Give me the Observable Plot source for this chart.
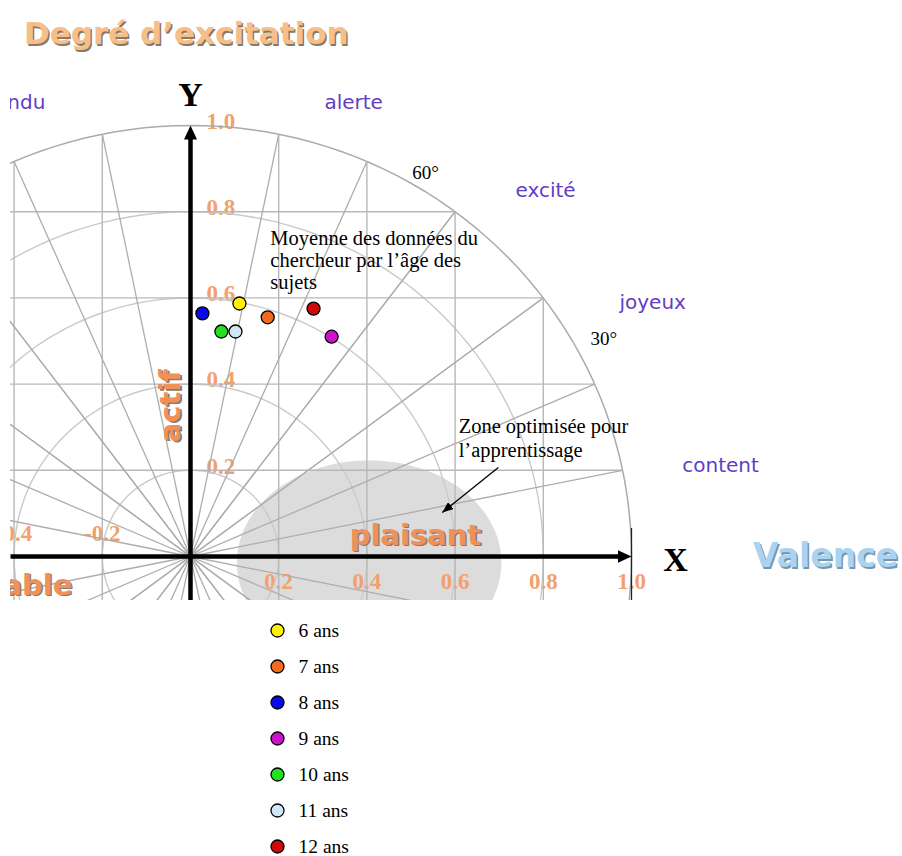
<!DOCTYPE html>
<html><head><meta charset="utf-8">
<script src="https://cdn.jsdelivr.net/npm/d3@7"></script>
<script src="https://cdn.jsdelivr.net/npm/@observablehq/plot@0.6"></script>
<style>
body{margin:0;background:#fff;width:902px;height:856px;position:relative;overflow:hidden}
#title{position:absolute;left:24px;top:18px;font-family:"DejaVu Sans";font-weight:bold;font-size:31px;line-height:31px;color:#F6BF8A;text-shadow:1.5px 1.5px 0 #8a7866;white-space:nowrap}
#chart{position:absolute;left:0;top:60px}
#legend{position:absolute;left:0;top:600px}
</style></head><body>
<div id="title">Degré d’excitation</div>
<div id="chart"></div>
<div id="legend"></div>
<script>
// ---- data ----
const ages = ["6 ans","7 ans","8 ans","9 ans","10 ans","11 ans","12 ans"];
const valence = [0.111, 0.175, 0.027, 0.320, 0.070, 0.102, 0.279];
const arousal = [0.587, 0.555, 0.564, 0.510, 0.522, 0.522, 0.575];
const ageColors = ["#FFF200","#F26A1E","#0A0AE8","#CC12CC","#22E022","#CFE8F5","#CC0A0A"];
const gridRadii = [0.2, 0.4, 0.6, 0.8];
const outerRadius = [1.0];
const gridSteps = [-0.8, -0.6, -0.4, -0.2, 0.2, 0.4, 0.6, 0.8];
const xTicksPos = [0.2, 0.4, 0.6, 0.8, 1.0];
const xTicksNeg = [-0.4, -0.2];
const yTicks = [0.2, 0.4, 0.6, 0.8, 1.0];
const moodWords = ["alerte", "excité", "joyeux", "content"];
const moodValence = [0.37, 0.805, 1.048, 1.202];
const moodArousal = [1.053, 0.849, 0.589, 0.211];
const tenseWord = ["tendu"];
const tenseValence = [-0.329];
const tenseArousal = [1.053];
const angleLabels = ["60°", "30°"];
const angleValence = [0.533, 0.937];
const angleArousal = [0.891, 0.506];
const zoneCenter = [0.405, -0.014];
const zoneRadii = [0.300, 0.237];

// ---- layout ----
const W = 902, H = 540;
const PX_X = 441, PX_Y = 431, OX = 190, OY = 496;
const xDomain = [(10 - OX) / PX_X, (W - OX) / PX_X];
const yDomain = [(OY - H) / PX_Y, OY / PX_Y];
const ORANGE_TICK = "#F2A06C", ORANGE = "#F0915A", PURPLE = "#5F3EC6", SERIF = "Liberation Serif", SANS = "DejaVu Sans";
const rad = Math.PI / 180;

const points = ages.map((age, i) => ({age, v: valence[i], a: arousal[i], color: ageColors[i]}));
const circle = (radii) => radii.flatMap(r => d3.range(0, 361, 2).map(t => ({r, x: r * Math.cos(t * rad), y: r * Math.sin(t * rad)})));
const ellipse = d3.range(0, 361, 3).map(t => ({x: zoneCenter[0] + zoneRadii[0] * Math.cos(t * rad), y: zoneCenter[1] + zoneRadii[1] * Math.sin(t * rad)}));
const rim = gridSteps.flatMap(v => { const w = Math.sqrt(1 - v * v); return [{x: v, y: w}, {x: v, y: -w}, {x: w, y: v}, {x: -w, y: v}]; });
const vLines = gridSteps.map(v => { const w = Math.sqrt(1 - v * v); return {x1: v, x2: v, y1: -w, y2: w}; });
const hLines = gridSteps.map(v => { const w = Math.sqrt(1 - v * v); return {y1: v, y2: v, x1: -w, x2: w}; });
const moods = moodWords.map((t, i) => ({t, x: moodValence[i], y: moodArousal[i]}));
const tense = tenseWord.map((t, i) => ({t, x: tenseValence[i], y: tenseArousal[i]}));
const angles = angleLabels.map((t, i) => ({t, x: angleValence[i], y: angleArousal[i]}));

function head(len, half, back) {
  return (color, context) => {
    const ns = "http://www.w3.org/2000/svg";
    const doc = (context && context.document) || document;
    const m = doc.createElementNS(ns, "marker");
    m.setAttribute("viewBox", `${-back} ${-half} ${len + back} ${2 * half}`);
    m.setAttribute("markerWidth", len + back);
    m.setAttribute("markerHeight", 2 * half);
    m.setAttribute("markerUnits", "userSpaceOnUse");
    m.setAttribute("refX", 0);
    m.setAttribute("refY", 0);
    m.setAttribute("orient", "auto");
    const p = doc.createElementNS(ns, "path");
    p.setAttribute("d", `M${-back},${-half}L${len},0L${-back},${half}Z`);
    p.setAttribute("fill", "black");
    p.setAttribute("stroke", "none");
    m.appendChild(p);
    return m;
  };
}

const shadowText = (data, opts, shadow, off = 1.6) => [
  Plot.text(data, {...opts, fill: shadow, dx: (opts.dx || 0) + off, dy: (opts.dy || 0) + off}),
  Plot.text(data, opts)
];

const chart = Plot.plot({
  width: W, height: H,
  marginLeft: 10, marginRight: 0, marginTop: 0, marginBottom: 0,
  x: {domain: xDomain, axis: null},
  y: {domain: yDomain, axis: null},
  color: {type: "identity"},
  style: {background: "white", overflow: "hidden"},
  marks: [
    Plot.line(ellipse, {x: "x", y: "y", fill: "#DCDCDC", stroke: "none", clip: true}),
    Plot.text(yTicks, {x: 0, y: d => d, text: d => d.toFixed(1), dx: 16, dy: -4, textAnchor: "start", fill: ORANGE_TICK, fontFamily: SERIF, fontWeight: "bold", fontSize: 23}),
    Plot.text(xTicksPos, {x: d => d, y: 0, text: d => d.toFixed(1), dy: 25, fill: ORANGE_TICK, fontFamily: SERIF, fontWeight: "bold", fontSize: 23, clip: true}),
    Plot.text(xTicksNeg, {x: d => d, y: 0, text: d => d.toFixed(1), dy: -23, fill: ORANGE_TICK, fontFamily: SERIF, fontWeight: "bold", fontSize: 23, clip: true}),
    Plot.line(circle(gridRadii), {x: "x", y: "y", z: "r", stroke: "#CACACA", strokeWidth: 1.4, clip: true}),
    Plot.line(circle(outerRadius), {x: "x", y: "y", z: "r", stroke: "#ABABAB", strokeWidth: 1.5, clip: true}),
    Plot.link(vLines, {x1: "x1", x2: "x2", y1: "y1", y2: "y2", stroke: "#B8B8B8", strokeWidth: 1.4, clip: true}),
    Plot.link(hLines, {x1: "x1", x2: "x2", y1: "y1", y2: "y2", stroke: "#B8B8B8", strokeWidth: 1.4, clip: true}),
    Plot.link(rim, {x1: () => 0, y1: () => 0, x2: "x", y2: "y", stroke: "#ADADAD", strokeWidth: 1.3, clip: true}),
    Plot.ruleX([1], {y1: yDomain[0], y2: 0.065, stroke: "#222", strokeWidth: 1.3}),
    Plot.link([{x1: xDomain[0], y1: 0, x2: 1 - 12 / PX_X, y2: 0}], {x1: "x1", y1: "y1", x2: "x2", y2: "y2", stroke: "black", strokeWidth: 4.5, markerEnd: head(12, 6.5, 2)}),
    Plot.link([{x1: 0, y1: yDomain[0], x2: 0, y2: 1 - 12 / PX_Y}], {x1: "x1", y1: "y1", x2: "x2", y2: "y2", stroke: "black", strokeWidth: 4.5, markerEnd: head(12, 6.5, 2)}),
    Plot.text([{t: "Y", x: 0, y: 1.07}, {t: "X", x: 1.10, y: -0.009}], {x: "x", y: "y", text: "t", fontFamily: SERIF, fontWeight: "bold", fontSize: 34, fill: "black"}),
    Plot.text(moods, {x: "x", y: "y", text: "t", fill: PURPLE, fontFamily: SANS, fontSize: 20}),
    Plot.text(tense, {x: "x", y: "y", text: "t", textAnchor: "end", fill: PURPLE, fontFamily: SANS, fontSize: 20, clip: true}),
    Plot.text(angles, {x: "x", y: "y", text: "t", fill: "black", fontFamily: SERIF, fontSize: 19}),
    ...shadowText([{t: "plaisant", x: 0.51, y: 0.049}], {x: "x", y: "y", text: "t", fill: ORANGE, fontFamily: SANS, fontWeight: "bold", fontSize: 29}, "#8a7a70"),
    ...shadowText([{t: "désagréable", x: -0.268, y: -0.067}], {x: "x", y: "y", text: "t", textAnchor: "end", fill: ORANGE, fontFamily: SANS, fontWeight: "bold", fontSize: 29, clip: true}, "#8a7a70"),
    ...shadowText([{t: "actif", x: -0.045, y: 0.35}], {x: "x", y: "y", text: "t", rotate: -90, fill: ORANGE, fontFamily: SANS, fontWeight: "bold", fontSize: 29}, "#8a7a70"),
    ...shadowText([{t: "Valence", x: 1.44, y: 0.0}], {x: "x", y: "y", text: "t", fill: "#A9D3F0", fontFamily: SANS, fontWeight: "bold", fontSize: 33}, "#7895AD"),
    Plot.text([{t: "Moyenne des données du\nchercheur par l’âge des\nsujets", x: 0.181, y: 0.688}], {x: "x", y: "y", text: "t", textAnchor: "start", lineHeight: 1.06, fill: "black", fontFamily: SERIF, fontSize: 20.5}),
    Plot.text([{t: "Zone optimisée pour\nl’apprentissage", x: 0.608, y: 0.276}], {x: "x", y: "y", text: "t", textAnchor: "start", lineHeight: 1.17, fill: "black", fontFamily: SERIF, fontSize: 20.5}),
    Plot.link([{x1: 0.698, y1: 0.2065, x2: 0.571, y2: 0.1021}], {x1: "x1", y1: "y1", x2: "x2", y2: "y2", stroke: "black", strokeWidth: 1.3, markerEnd: head(0, 4.5, 11)}),
    Plot.dot(points, {x: "v", y: "a", fill: "color", r: 6.5, stroke: "black", strokeWidth: 1.3})
  ]
});
document.getElementById("chart").appendChild(chart);

const legend = Plot.plot({
  width: W, height: 256,
  marginLeft: 0, marginRight: 0, marginTop: 0, marginBottom: 0,
  y: {type: "point", domain: ages, range: [28, 248], padding: 0, axis: null},
  color: {type: "identity"},
  style: {background: "white"},
  marks: [
    Plot.dot(points, {y: "age", frameAnchor: "left", dx: 277, fill: "color", r: 6.5, stroke: "black", strokeWidth: 1.3}),
    Plot.text(points, {y: "age", text: "age", frameAnchor: "left", dx: 298, textAnchor: "start", fill: "black", fontFamily: SERIF, fontSize: 19.5})
  ]
});
document.getElementById("legend").appendChild(legend);
</script>
</body></html>
